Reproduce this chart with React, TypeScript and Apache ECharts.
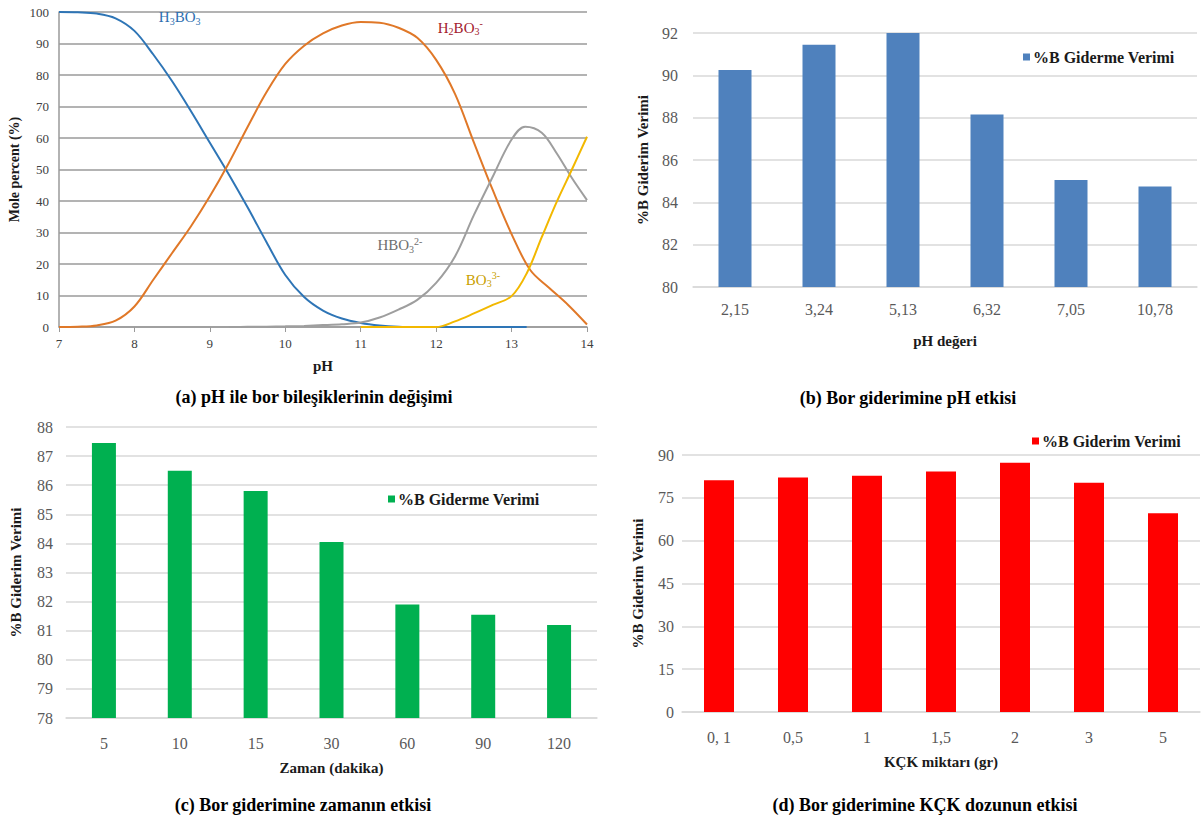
import React, { useEffect, useRef } from "react";
import * as echarts from "echarts";

// ---- Panel (a): mole percent vs pH ----
const h3bo3Ph = [7, 7.25, 7.5, 7.75, 8.0, 8.25, 8.5, 8.75, 9.0, 9.25, 9.5, 9.75, 10.0, 10.25, 10.5, 10.75, 11.0, 11.25, 11.5, 11.75, 12.0, 12.5, 13.2];
const h3bo3Val = [100, 99.9, 99.5, 98, 94, 86.5, 78, 68.5, 58.5, 48.5, 38, 27, 16.5, 9.5, 5.2, 2.7, 1.3, 0.5, 0.1, 0, 0, 0, 0];
const h2bo3Ph = [7, 7.25, 7.5, 7.75, 8.0, 8.25, 8.5, 8.75, 9.0, 9.25, 9.5, 9.75, 10.0, 10.25, 10.5, 10.75, 11.0, 11.25, 11.5, 11.75, 12.0, 12.25, 12.5, 12.75, 13.0, 13.25, 13.5, 13.75, 14];
const h2bo3Val = [0, 0.1, 0.5, 2, 6.5, 15, 23.5, 32, 41.5, 52, 63.5, 74.5, 83.5, 89.3, 93.2, 95.7, 96.8, 96.6, 95, 91.8, 84.8, 74, 58.6, 43.5, 29.5, 18, 12.4, 7, 0.8];
const hbo3Ph = [9.25, 9.5, 9.75, 10.0, 10.25, 10.5, 10.75, 11.0, 11.25, 11.5, 11.75, 12.0, 12.25, 12.5, 12.75, 13.0, 13.18, 13.4, 13.6, 13.8, 14];
const hbo3Val = [0, 0.05, 0.1, 0.2, 0.35, 0.6, 0.9, 1.4, 3, 5.5, 8.6, 14, 22.4, 35.5, 47.7, 59.5, 63.6, 61.7, 55.1, 47.3, 40.3];
const bo3Ph = [11.0, 11.5, 12.0, 12.25, 12.5, 12.75, 13.0, 13.2, 13.4, 13.6, 13.8, 14];
const bo3Val = [0, 0, 0, 1.8, 4.3, 7, 9.8, 17, 28.5, 39.8, 50, 60.4];

// ---- Panel (b): pH effect ----
const phLabels = ["2,15", "3,24", "5,13", "6,32", "7,05", "10,78"];
const phVerim = [90.25, 91.45, 92.0, 88.15, 85.05, 84.75];

// ---- Panel (c): time effect ----
const timeLabels = ["5", "10", "15", "30", "60", "90", "120"];
const timeVerim = [87.45, 86.5, 85.8, 84.05, 81.9, 81.55, 81.2];

// ---- Panel (d): dose effect ----
const doseLabels = ["0, 1", "0,5", "1", "1,5", "2", "3", "5"];
const doseVerim = [81.2, 82.1, 82.7, 84.2, 87.3, 80.3, 69.6];

const SERIF = "Liberation Serif";

const zip = (xs: number[], ys: number[]) => xs.map((x, i) => [x, ys[i]]);

const legendNames: Record<string, string> = {
  pHSeries: "%B Giderme Verimi",
  timeSeries: "%B Giderme Verimi",
  doseSeries: "%B Giderim Verimi",
};

const tickLabel = (size: number, color: string, margin: number) => ({
  fontFamily: SERIF,
  fontSize: size,
  color,
  margin,
});

function speciesLabel(coord: number[], text: string, color: string) {
  return {
    silent: true,
    symbol: "circle",
    symbolSize: 0,
    data: [
      {
        coord,
        label: {
          show: true,
          position: "inside",
          formatter: text,
          rich: {
            a: { fontFamily: SERIF, fontSize: 15, color, lineHeight: 18, verticalAlign: "middle" },
            s: { fontFamily: SERIF, fontSize: 10, color, lineHeight: 18, verticalAlign: "bottom" },
            p: { fontFamily: SERIF, fontSize: 10, color, lineHeight: 18, verticalAlign: "top" },
          },
        },
      },
    ],
  };
}

const barY = (gridIndex: number, min: number, max: number, interval: number, nameGap: number, labelMargin: number) => ({
  type: "value",
  gridIndex,
  min,
  max,
  interval,
  name: "%B Giderim Verimi",
  nameLocation: "middle",
  nameGap,
  nameTextStyle: { fontFamily: SERIF, fontWeight: "bold", fontSize: 15, color: "#1a1a1a" },
  axisLine: { show: false },
  axisTick: { show: false },
  axisLabel: tickLabel(16, "#595959", labelMargin),
  splitLine: { lineStyle: { color: "#d9d9d9", width: 1.5 } },
});

const barX = (gridIndex: number, data: string[], name: string, nameGap: number, labelMargin: number) => ({
  type: "category",
  gridIndex,
  data,
  name,
  nameLocation: "middle",
  nameGap,
  nameTextStyle: { fontFamily: SERIF, fontWeight: "bold", fontSize: 15, color: "#1a1a1a" },
  axisLine: { lineStyle: { color: "#d9d9d9", width: 1.5 } },
  axisTick: { show: false },
  axisLabel: tickLabel(16, "#595959", labelMargin),
});

const legendCommon = {
  icon: "rect",
  itemWidth: 7,
  itemHeight: 7,
  itemGap: 4,
  formatter: (n: string) => legendNames[n],
  textStyle: { fontFamily: SERIF, fontWeight: "bold", fontSize: 16, color: "#1a1a1a", padding: [0, 0, 0, -2] },
};

const caption = (x: number, y: number, text: string) => ({
  type: "text",
  x,
  y,
  style: {
    text,
    fontFamily: SERIF,
    fontWeight: "bold",
    fontSize: 18,
    fill: "#000",
    textAlign: "center",
    textVerticalAlign: "middle",
  },
});

export default function App() {
  const ref = useRef<HTMLDivElement>(null);
  useEffect(() => {
    document.body.style.margin = "0";
    if (!ref.current) return;
    const chart = echarts.init(ref.current, null, { renderer: "svg" });
    const option: any = {
      animation: false,
      backgroundColor: "#ffffff",
      textStyle: { fontFamily: SERIF },
      grid: [
        { left: 59, top: 12, width: 528, height: 315 },
        { left: 693, top: 33, width: 504, height: 254 },
        { left: 66, top: 427, width: 531, height: 291 },
        { left: 682, top: 455, width: 518, height: 257 },
      ],
      xAxis: [
        {
          type: "value",
          gridIndex: 0,
          min: 7,
          max: 14,
          interval: 1,
          name: "pH",
          nameLocation: "middle",
          nameGap: 31,
          nameTextStyle: { fontFamily: SERIF, fontWeight: "bold", fontSize: 15, color: "#1a1a1a" },
          axisLine: { lineStyle: { color: "#9a9a9a", width: 1.5 } },
          axisTick: { show: true, length: 5, lineStyle: { color: "#9a9a9a" } },
          axisLabel: tickLabel(13, "#404040", 10),
          splitLine: { show: false },
        },
        barX(1, phLabels, "pH değeri", 46, 14),
        barX(2, timeLabels, "Zaman (dakika)", 42, 17),
        barX(3, doseLabels, "KÇK miktarı (gr)", 42, 17),
      ],
      yAxis: [
        {
          type: "value",
          gridIndex: 0,
          min: 0,
          max: 100,
          interval: 10,
          name: "Mole percent (%)",
          nameLocation: "middle",
          nameGap: 38,
          nameTextStyle: { fontFamily: SERIF, fontWeight: "bold", fontSize: 14, color: "#1a1a1a" },
          axisLine: { show: true, lineStyle: { color: "#9a9a9a", width: 1.5 } },
          axisTick: { show: false },
          axisLabel: tickLabel(13, "#404040", 10),
          splitLine: { lineStyle: { color: "#9a9a9a", width: 1.5 } },
        },
        barY(1, 80, 92, 2, 43, 15),
        barY(2, 78, 88, 1, 43, 13),
        barY(3, 0, 90, 15, 37, 8),
      ],
      legend: [
        { ...legendCommon, data: ["pHSeries"], left: 1018, top: 44 },
        { ...legendCommon, data: ["timeSeries"], left: 383, top: 486 },
        { ...legendCommon, data: ["doseSeries"], left: 1027, top: 428 },
      ],
      series: [
        {
          name: "H3BO3",
          type: "line",
          xAxisIndex: 0,
          yAxisIndex: 0,
          data: zip(h3bo3Ph, h3bo3Val),
          smooth: 0.35,
          symbol: "none",
          lineStyle: { color: "#2e75b6", width: 2 },
          markPoint: speciesLabel([8.6, 98.4], "{a|H}{s|3}{a|BO}{s|3}", "#2e6fb0"),
        },
        {
          name: "H2BO3",
          type: "line",
          xAxisIndex: 0,
          yAxisIndex: 0,
          data: zip(h2bo3Ph, h2bo3Val),
          smooth: 0.35,
          symbol: "none",
          lineStyle: { color: "#e07828", width: 2 },
          markPoint: speciesLabel([12.32, 95], "{a|H}{s|2}{a|BO}{s|3}{p|-}", "#a3202e"),
        },
        {
          name: "HBO3",
          type: "line",
          xAxisIndex: 0,
          yAxisIndex: 0,
          data: zip(hbo3Ph, hbo3Val),
          smooth: 0.35,
          symbol: "none",
          lineStyle: { color: "#9e9e9e", width: 2 },
          markPoint: speciesLabel([11.52, 26], "{a|HBO}{s|3}{p|2-}", "#6e6e6e"),
        },
        {
          name: "BO3",
          type: "line",
          xAxisIndex: 0,
          yAxisIndex: 0,
          data: zip(bo3Ph, bo3Val),
          smooth: 0.35,
          symbol: "none",
          lineStyle: { color: "#f2b800", width: 2 },
          markPoint: speciesLabel([12.62, 15], "{a|BO}{s|3}{p|3-}", "#c9a000"),
        },
        {
          name: "pHSeries",
          type: "bar",
          xAxisIndex: 1,
          yAxisIndex: 1,
          data: phVerim,
          barWidth: 33,
          itemStyle: { color: "#4f81bd" },
        },
        {
          name: "timeSeries",
          type: "bar",
          xAxisIndex: 2,
          yAxisIndex: 2,
          data: timeVerim,
          barWidth: 24,
          itemStyle: { color: "#00b050" },
        },
        {
          name: "doseSeries",
          type: "bar",
          xAxisIndex: 3,
          yAxisIndex: 3,
          data: doseVerim,
          barWidth: 30,
          itemStyle: { color: "#ff0000" },
        },
      ],
      graphic: [
        caption(314, 397, "(a) pH ile bor bileşiklerinin değişimi"),
        caption(908, 398, "(b) Bor giderimine pH etkisi"),
        caption(303, 805, "(c) Bor giderimine zamanın etkisi"),
        caption(925, 805, "(d) Bor giderimine KÇK dozunun etkisi"),
      ],
    };
    chart.setOption(option);
    return () => chart.dispose();
  }, []);
  return <div ref={ref} style={{ width: 1203, height: 823 }} />;
}
